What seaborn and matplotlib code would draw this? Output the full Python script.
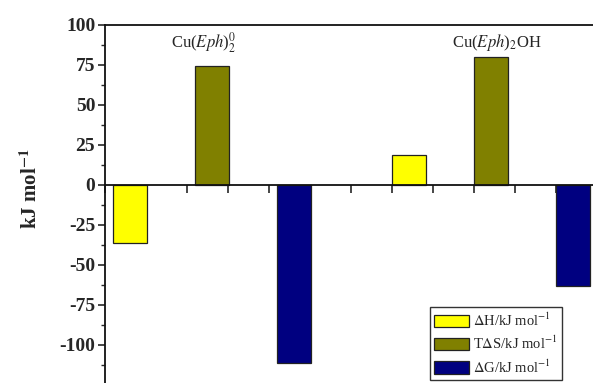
import numpy as np
import pandas as pd
import matplotlib
matplotlib.use("Agg")
import matplotlib.pyplot as plt
import seaborn as sns

# --- data ---
compounds = ["Cu(Eph)2^0", "Cu(Eph)2OH"]
compound_labels = [r"Cu($\it{Eph}$)$_2^0$", r"Cu($\it{Eph}$)$_2$OH"]
series = [r"$\Delta$H/kJ mol$^{-1}$", r"T$\Delta$S/kJ mol$^{-1}$", r"$\Delta$G/kJ mol$^{-1}$"]
dH = [-36, 19]
TdS = [74, 80]
dG = [-111, -63]
colors = ["#ffff00", "#808000", "#000080"]

df = pd.DataFrame({
    "compound": compounds * 3,
    "quantity": [series[0]] * 2 + [series[1]] * 2 + [series[2]] * 2,
    "value": dH + TdS + dG,
})

# --- style ---
sns.set_style("ticks")
plt.rcParams["font.family"] = ["Liberation Serif", "DejaVu Serif"]
plt.rcParams["mathtext.fontset"] = "stix"
plt.rcParams["axes.unicode_minus"] = False

fig = plt.figure(figsize=(5.93, 3.83), dpi=100)
ax = fig.add_axes([0.177, -0.005, 0.835, 0.94])

sns.barplot(data=df, x="compound", y="value", hue="quantity",
            order=compounds, hue_order=series, palette=colors, saturation=1,
            width=0.882, gap=0.585, edgecolor="#222222", linewidth=0.9,
            ax=ax)

# axis limits: left spine sits 0.385 category units left of first group
x0 = -0.385
x1 = x0 + 0.835 * 593 / 279
ax.set_xlim(x0, x1)
ax.set_ylim(-125, 100)

# spines: x axis drawn through zero, top frame line kept
ax.spines["bottom"].set_position(("data", 0))
ax.spines["right"].set_visible(False)
for s in ["left", "top", "bottom"]:
    ax.spines[s].set_linewidth(1.3)
    ax.spines[s].set_color("#111111")

ax.set_xticks(np.arange(x0, x1, 41 / 279))
ax.tick_params(axis="x", direction="out", length=6, width=1.2, labelbottom=False)
ax.set_xlabel("")

ax.set_yticks(np.arange(-100, 101, 25))
ax.set_yticks(np.arange(-112.5, 100, 25), minor=True)
ax.tick_params(axis="y", which="major", direction="out", length=5, width=1.2,
               labelsize=14, pad=2)
ax.tick_params(axis="y", which="minor", direction="out", length=3, width=1.0)
for lab in ax.get_yticklabels():
    lab.set_fontweight("bold")

ax.set_ylabel(r"kJ mol$^{\mathbf{-1}}$", fontsize=15, fontweight="bold")
ax.yaxis.set_label_coords(-0.127, 0.545)

# compound labels above each group
for i, lab in enumerate(compound_labels):
    ax.text(i - 0.03 + 0.05 * i, 89, lab, ha="center", va="center", fontsize=12)

# legend
leg = ax.legend(loc="lower right", bbox_to_anchor=(0.948, 0.008),
                bbox_transform=fig.transFigure, fontsize=10.5,
                frameon=True, fancybox=False, framealpha=1, edgecolor="#333333",
                handlelength=2.4, handleheight=0.9, handletextpad=0.3,
                borderpad=0.3, labelspacing=0.42, borderaxespad=0)
leg.get_frame().set_linewidth(1.0)

fig.savefig("out.png", dpi=100)
